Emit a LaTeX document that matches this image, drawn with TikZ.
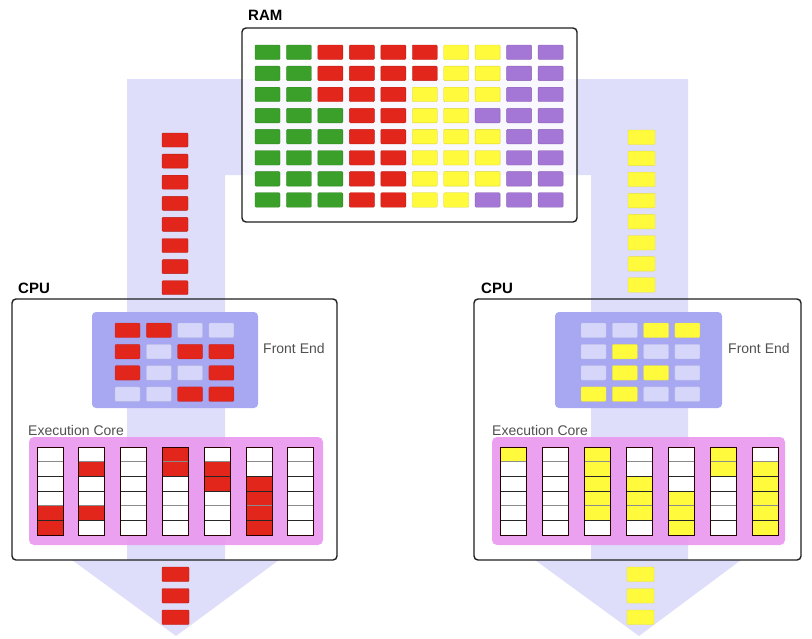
\documentclass[tikz,border=0pt]{standalone}
\usepackage{fontspec}
\setmainfont{Liberation Sans}
\definecolor{band}{RGB}{222,222,250}
\definecolor{cR}{RGB}{226,38,28}
\definecolor{cG}{RGB}{58,160,42}
\definecolor{cY}{RGB}{255,250,60}
\definecolor{cP}{RGB}{164,118,214}
\definecolor{cL}{RGB}{214,214,250}
\definecolor{cW}{RGB}{255,255,255}
\definecolor{fe}{RGB}{168,168,242}
\definecolor{ec}{RGB}{234,150,238}
\definecolor{txt}{RGB}{80,80,80}
\begin{document}
\begin{tikzpicture}[x=1pt,y=-1pt,
  box/.style={draw=black!88,line width=1.4pt,rounded corners=4pt},
  title/.style={font=\fontsize{15}{17}\selectfont\bfseries,anchor=west,inner sep=0pt},
  sub/.style={font=\fontsize{14}{16}\selectfont,text=txt,anchor=west,inner sep=0pt},
  sep/.style={line width=0.8pt},
  colborder/.style={draw=black!85!red,line width=1pt}]
\useasboundingbox (0,0) rectangle (812,638);
% lavender flow band
\fill[band] (127,79) -- (688,79) -- (688,561) -- (591,561) -- (591,175) -- (225,175) -- (225,561) -- (127,561) -- cycle;
\fill[band] (72,560) -- (279,560) -- (176,636) -- cycle;
\fill[band] (535,560) -- (741,560) -- (639,636) -- cycle;
% RAM
\node[title] (ramlabel) at (248,15) {RAM};
\draw[box,fill=white,fill opacity=0.8] (242,28) rectangle (577,222);
\foreach \row [count=\r from 0] in {
  {G,G,R,R,R,R,Y,Y,P,P},
  {G,G,R,R,R,R,Y,Y,P,P},
  {G,G,R,R,R,Y,Y,Y,P,P},
  {G,G,G,R,R,Y,Y,P,P,P},
  {G,G,G,R,R,Y,Y,Y,P,P},
  {G,G,G,R,R,Y,Y,Y,P,P},
  {G,G,G,R,R,Y,Y,Y,P,P},
  {G,G,G,R,R,Y,Y,P,P,P}} {
  \foreach \c [count=\k from 0] in \row {
    \draw[fill=c\c,draw=c\c!85!black,line width=0.4pt,rounded corners=1pt]
      ({255+\k*31.45},{45+\r*21.1}) rectangle +(25,14.5);
  }
}
% streams
\foreach \i in {0,...,7} {
  \draw[fill=cR,draw=cR!80!black,line width=0.4pt,rounded corners=1pt] (162,{133+\i*21.1}) rectangle +(26,14);
  \draw[fill=cY,draw=cY!90!black,line width=0.4pt,rounded corners=1pt] (628,{130+\i*21.1}) rectangle +(27,14.5);
}
\foreach \i in {0,1,2} {
  \draw[fill=cR,draw=cR!80!black,line width=0.4pt,rounded corners=1pt] (162,{567+\i*21.5}) rectangle +(27,14.5);
  \draw[fill=cY,draw=cY!90!black,line width=0.4pt,rounded corners=1pt] (627,{567+\i*21.5}) rectangle +(27,14.5);
}
% CPU boxes
\node[title] (cpuleft) at (18,288) {CPU};
\node[title] (cpuright) at (481,288) {CPU};
\draw[box] (12,299) rectangle (337,560);
\draw[box] (474,299) rectangle (801,560);
% Front ends
\fill[fe,rounded corners=4pt] (92,312) rectangle (258,408);
\fill[fe,rounded corners=4pt] (555,312) rectangle (722,408);
\node[sub] (feleft) at (263,348) {Front End};
\node[sub] (feright) at (728,348) {Front End};
\foreach \row [count=\r from 0] in {{R,R,L,L},{R,L,R,R},{R,L,L,R},{L,L,R,R}} {
  \foreach \c [count=\k from 0] in \row {
    \draw[fill=c\c,draw=c\c!85!black,draw opacity=0.6,line width=0.4pt,rounded corners=1pt]
      ({115+\k*31.3},{323+\r*21.3}) rectangle +(25,14.5);
  }
}
\foreach \row [count=\r from 0] in {{L,L,Y,Y},{L,Y,L,L},{L,Y,Y,L},{Y,Y,L,L}} {
  \foreach \c [count=\k from 0] in \row {
    \draw[fill=c\c,draw=c\c!90!black,draw opacity=0.6,line width=0.4pt,rounded corners=1pt]
      ({581+\k*31.3},{323+\r*21.3}) rectangle +(25,14.5);
  }
}
% Execution cores
\fill[ec,fill opacity=0.9,rounded corners=5pt] (29,437) rectangle (323,545);
\fill[ec,fill opacity=0.9,rounded corners=5pt] (492,437) rectangle (785,545);
\node[sub] (ecleft) at (28,430) {Execution Core};
\node[sub] (ecright) at (492,430) {Execution Core};
\foreach \col [count=\k from 0] in {
  {W,W,W,W,R,R},{W,R,W,W,R,W},{W,W,W,W,W,W},{R,R,W,W,W,W},
  {W,R,R,W,W,W},{W,W,R,R,R,R},{W,W,W,W,W,W}} {
  \foreach \c [count=\j from 0] in \col {
    \fill[c\c] ({37+\k*41.8},{447+\j*14.667}) rectangle +(26,14.667);
  }
  \foreach \j in {2,3,5} \draw[sep,black!85] ({37+\k*41.8},{447+\j*14.667}) -- +(26,0);
  \foreach \j in {1,4} \draw[sep,black!45] ({37+\k*41.8},{447+\j*14.667}) -- +(26,0);
  \draw[colborder] ({37+\k*41.8},447) rectangle +(26,88);
}
\foreach \col [count=\k from 0] in {
  {Y,W,W,W,W,W},{W,W,W,W,W,W},{Y,Y,Y,Y,Y,W},{W,W,Y,Y,Y,W},
  {W,W,W,Y,Y,Y},{Y,Y,W,W,W,W},{W,Y,Y,Y,Y,Y}} {
  \foreach \c [count=\j from 0] in \col {
    \fill[c\c] ({500+\k*42},{447+\j*14.667}) rectangle +(26,14.667);
  }
  \foreach \j in {2,3,5} \draw[sep,black!85] ({500+\k*42},{447+\j*14.667}) -- +(26,0);
  \foreach \j in {1,4} \draw[sep,black!45] ({500+\k*42},{447+\j*14.667}) -- +(26,0);
  \draw[colborder] ({500+\k*42},447) rectangle +(26,88);
}
\end{tikzpicture}
\end{document}
